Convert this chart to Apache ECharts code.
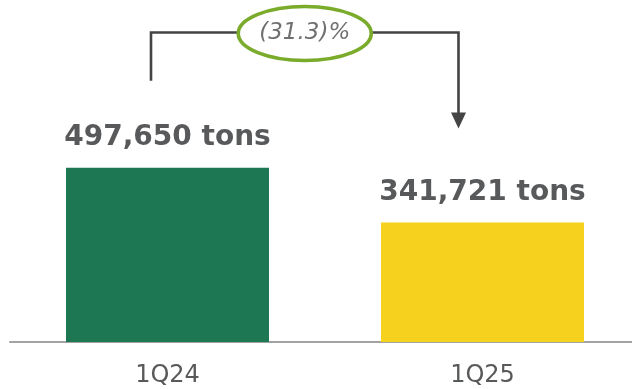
<!DOCTYPE html>
<html>
<head>
<meta charset="utf-8">
<script src="https://cdn.jsdelivr.net/npm/echarts@6/dist/echarts.min.js"></script>
<style>
  html, body { margin: 0; padding: 0; background: #ffffff; }
  #chart { width: 632px; height: 389px; }
</style>
</head>
<body>
<div id="chart"></div>
<script>
// Quarterly volume, in tons
const categories = ['1Q24', '1Q25'];
const volumes = [497650, 341721];
const barColors = ['#1e7753', '#f6d21e'];
const unit = 'tons';

const FONT = '"DejaVu Sans", sans-serif';
const TEXT = '#58595b';

const chart = echarts.init(document.getElementById('chart'), null, { renderer: 'canvas' });

chart.setOption({
  animation: false,
  backgroundColor: '#ffffff',
  grid: { left: 10, right: -8, top: 27, bottom: 47, containLabel: false, outerBoundsMode: 'none' },
  xAxis: {
    type: 'category',
    data: categories,
    axisLine: { lineStyle: { color: '#a3a3a3', width: 2 } },
    axisTick: { show: false },
    axisLabel: { fontFamily: FONT, fontSize: 24, color: TEXT, margin: 22 }
  },
  yAxis: { type: 'value', min: 0, max: 900000, show: false },
  series: [{
    type: 'bar',
    barWidth: 203,
    data: volumes.map((v, i) => ({ value: v, itemStyle: { color: barColors[i] } })),
    label: {
      show: true,
      position: 'top',
      distance: 16,
      fontFamily: FONT,
      fontSize: 28,
      fontWeight: 'bold',
      color: TEXT,
      formatter: p => p.value.toLocaleString('en-US') + ' ' + unit
    }
  }]
});

// Change bracket from the first bar to the second, anchored to the bar positions
const top0 = chart.convertToPixel({ gridIndex: 0 }, [0, volumes[0]]);
const top1 = chart.convertToPixel({ gridIndex: 0 }, [1, volumes[1]]);
const xL = top0[0] - 16.5;
const xR = top1[0] - 24;
const yBar = 32.5;
const yLeftEnd = top0[1] - 87;
const yTip = top1[1] - 94;
const xMid = (xL + xR) / 2;

const change = (volumes[1] / volumes[0] - 1) * 100;
const changeText = change < 0 ? '(' + Math.abs(change).toFixed(1) + ')%' : change.toFixed(1) + '%';

const LINE = '#444444';
chart.setOption({
  graphic: [
    { type: 'polyline', z: 10, shape: { points: [[xL, yLeftEnd], [xL, yBar], [xR, yBar], [xR, yTip - 15]] },
      style: { stroke: LINE, lineWidth: 2.6, fill: null } },
    { type: 'polygon', z: 10, shape: { points: [[xR - 7.5, yTip - 16], [xR + 7.5, yTip - 16], [xR, yTip]] },
      style: { fill: LINE } },
    { type: 'ellipse', z: 11, shape: { cx: xMid, cy: yBar + 1, rx: 66.5, ry: 27 },
      style: { fill: '#ffffff', stroke: '#7aab2b', lineWidth: 3.6 } },
    { type: 'text', z: 12, x: xMid, y: yBar + 1,
      style: { text: changeText, fontFamily: FONT, fontSize: 23, fontStyle: 'italic',
               fill: '#707070', align: 'center', verticalAlign: 'middle' } }
  ]
});
</script>
</body>
</html>
